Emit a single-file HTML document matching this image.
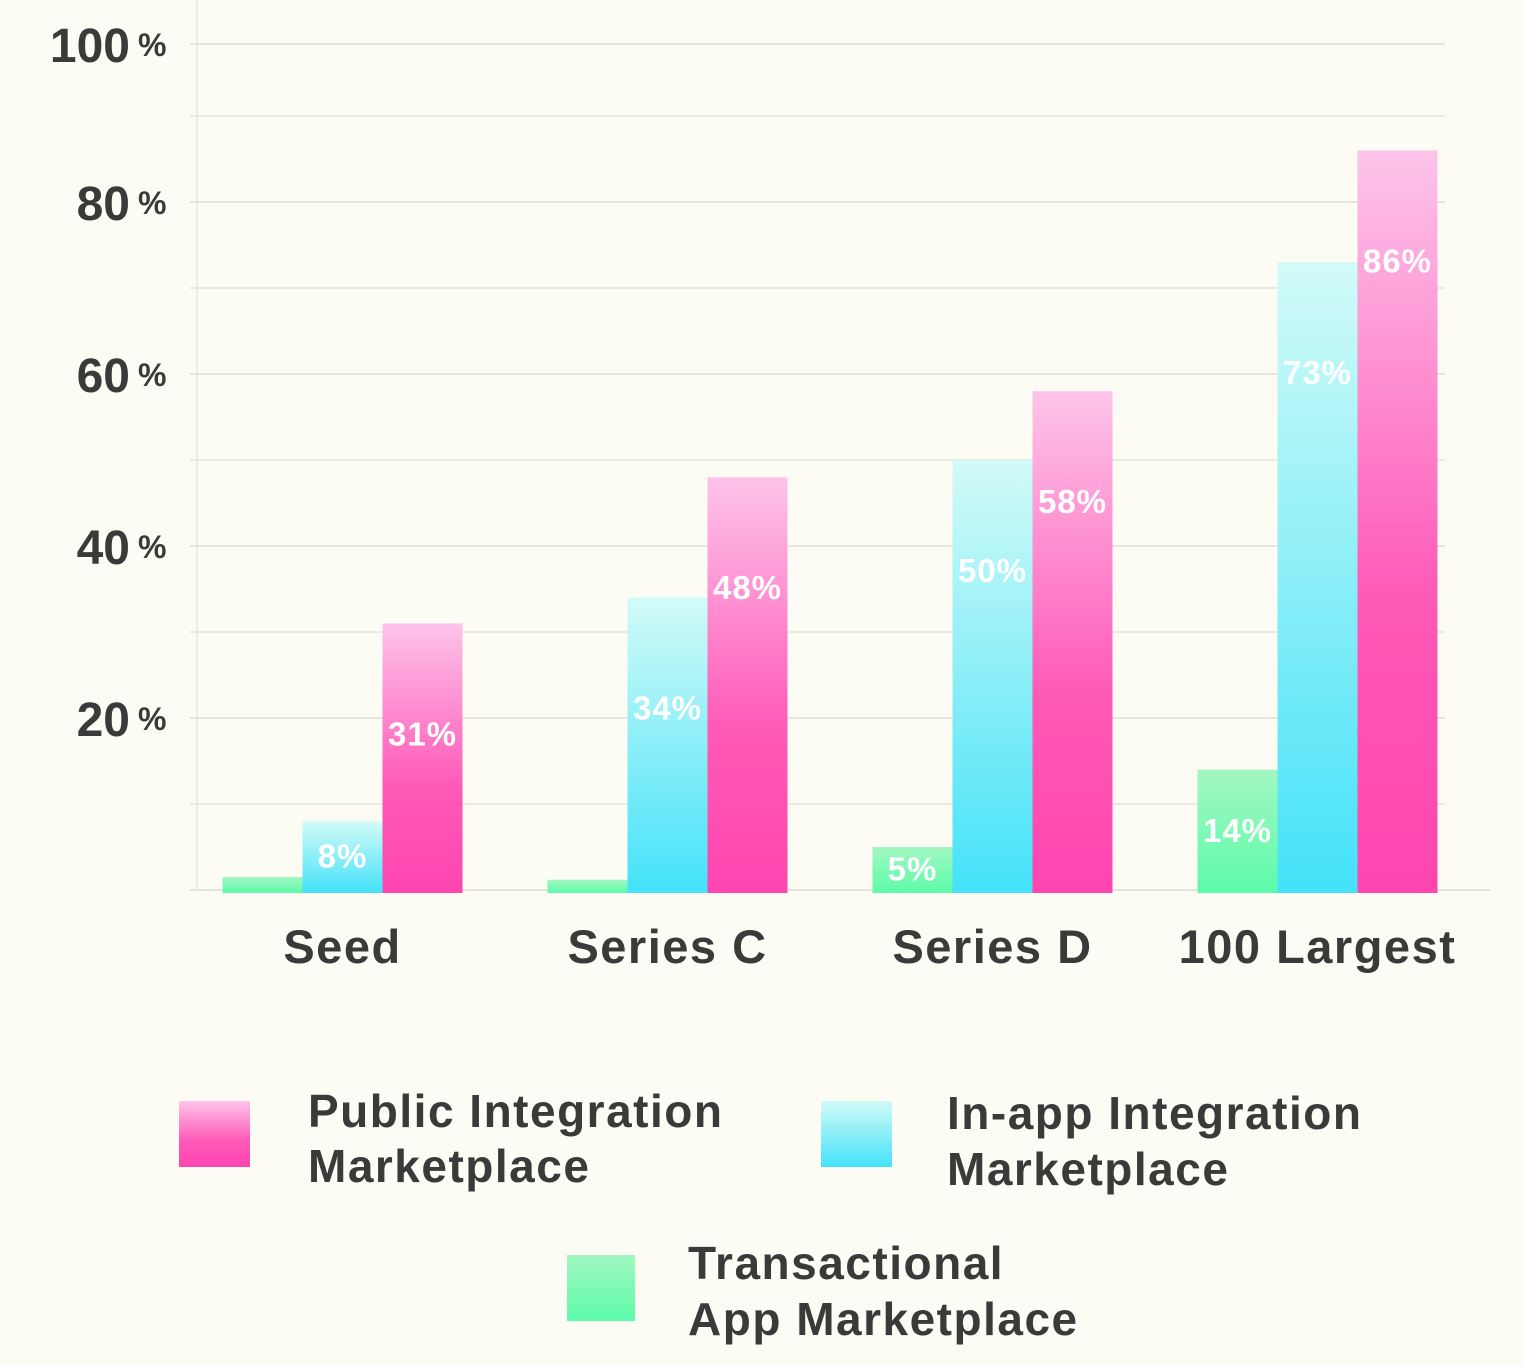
<!DOCTYPE html>
<html><head><meta charset="utf-8"><style>
html,body{margin:0;padding:0;background:#fcfcf4;}
svg{display:block;}
text{font-family:"Liberation Sans",Arial,sans-serif;font-weight:bold;}
</style></head><body>
<svg id="chart" width="1524" height="1366" viewBox="0 0 1524 1366" xmlns="http://www.w3.org/2000/svg">
<defs>
<linearGradient id="gPink" x1="0" y1="0" x2="0" y2="1"><stop offset="0" stop-color="#fdc4ea"/><stop offset="0.6" stop-color="#ff5ab8"/><stop offset="1" stop-color="#ff45b0"/></linearGradient>
<linearGradient id="gCyan" x1="0" y1="0" x2="0" y2="1"><stop offset="0" stop-color="#d2fbf7"/><stop offset="1" stop-color="#44e2f9"/></linearGradient>
<linearGradient id="gGreen" x1="0" y1="0" x2="0" y2="1"><stop offset="0" stop-color="#a2f7c0"/><stop offset="1" stop-color="#5cfbaa"/></linearGradient>
</defs>
<g id="grid"></g>
<g id="bars"></g>
<g id="labels"></g>
<g id="legend" font-size="46" letter-spacing="1.5" fill="#3a3a3a">
<rect x="179" y="1101" width="71" height="66" fill="url(#gPink)"/>
<text x="308" y="1127">Public Integration</text>
<text x="308" y="1182">Marketplace</text>
<rect x="821" y="1101" width="71" height="66" fill="url(#gCyan)"/>
<text x="947" y="1129">In-app Integration</text>
<text x="947" y="1185">Marketplace</text>
<rect x="567" y="1255" width="68" height="66" fill="url(#gGreen)"/>
<text x="688" y="1279">Transactional</text>
<text x="688" y="1335">App Marketplace</text>
</g>
</svg>
<script>
const categories = ["Seed", "Series C", "Series D", "100 Largest"];
const transactional = [1.5, 1.2, 5, 14];
const inApp = [8, 34, 50, 73];
const publicMkt = [31, 48, 58, 86];
const yTicks = [20, 40, 60, 80, 100];
const minorTicks = [10, 30, 50, 70, 90];

const NS = "http://www.w3.org/2000/svg";
const X0 = 180, X1 = 1480, Y0 = 890, PX = 8.6;
function y(v){ return Y0 - PX * v; }
function bandCenter(i){ const w = (X1 - X0) / categories.length; return X0 + w * (i + 0.5); }
function mk(tag, attrs, parent){ const e = document.createElementNS(NS, tag); for (const k in attrs) e.setAttribute(k, attrs[k]); parent.appendChild(e); return e; }

const grid = document.getElementById("grid");
const bars = document.getElementById("bars");
const labels = document.getElementById("labels");

mk("line", {x1:197, y1:0, x2:197, y2:Y0, stroke:"#ecece4", "stroke-width":2}, grid);
mk("line", {x1:190, y1:Y0, x2:1490, y2:Y0, stroke:"#e4e4dc", "stroke-width":2}, grid);
minorTicks.forEach(t => {
  const l = mk("line", {x1:190, y1:y(t), x2:1445, y2:y(t), stroke:"#eaeae2", "stroke-width":2}, grid);
  
  
});
yTicks.forEach(t => {
  const ty = t === 100 ? 44 : y(t);
  const l = mk("line", {x1:190, y1:ty, x2:1445, y2:ty, stroke:"#e6e6de", "stroke-width":2}, grid);
  
  
  const tx = mk("text", {x:130, y:ty+18, "font-size":48, fill:"#3a3a3a", "text-anchor":"end"}, labels);
  tx.textContent = String(t);
  
  
  const p = mk("text", {x:138, y:ty+12, "font-size":32, fill:"#3a3a3a"}, labels);
  p.textContent = "%";
  
  
});

const series = [
  {vals: transactional, fill: "url(#gGreen)", name: "bar-transactional"},
  {vals: inApp, fill: "url(#gCyan)", name: "bar-in-app"},
  {vals: publicMkt, fill: "url(#gPink)", name: "bar-public"}
];
const BW = 80;
categories.forEach((c, i) => {
  const cx = bandCenter(i);
  series.forEach((s, j) => {
    const v = s.vals[i];
    const bx = cx - 1.5 * BW + j * BW;
    const top = y(v), h = Y0 - top;
    const r = mk("rect", {x:bx, y:top, width:BW, height:h + 3, fill:s.fill}, bars);
    
    
    if (v >= 4) {
      const center = h < 150 ? top + h * 0.5 : top + 110;
      const lt = mk("text", {x:bx + BW/2, y:center + 12, "font-size":33, "letter-spacing":1, fill:"#ffffff", "text-anchor":"middle"}, labels);
      lt.textContent = Math.round(v) + "%";
      
      
    }
  });
  const ct = mk("text", {x:cx, y:963, "font-size":47, "letter-spacing":1.5, fill:"#3a3a3a", "text-anchor":"middle"}, labels);
  ct.textContent = c;
  
  
});
</script>
</body></html>
